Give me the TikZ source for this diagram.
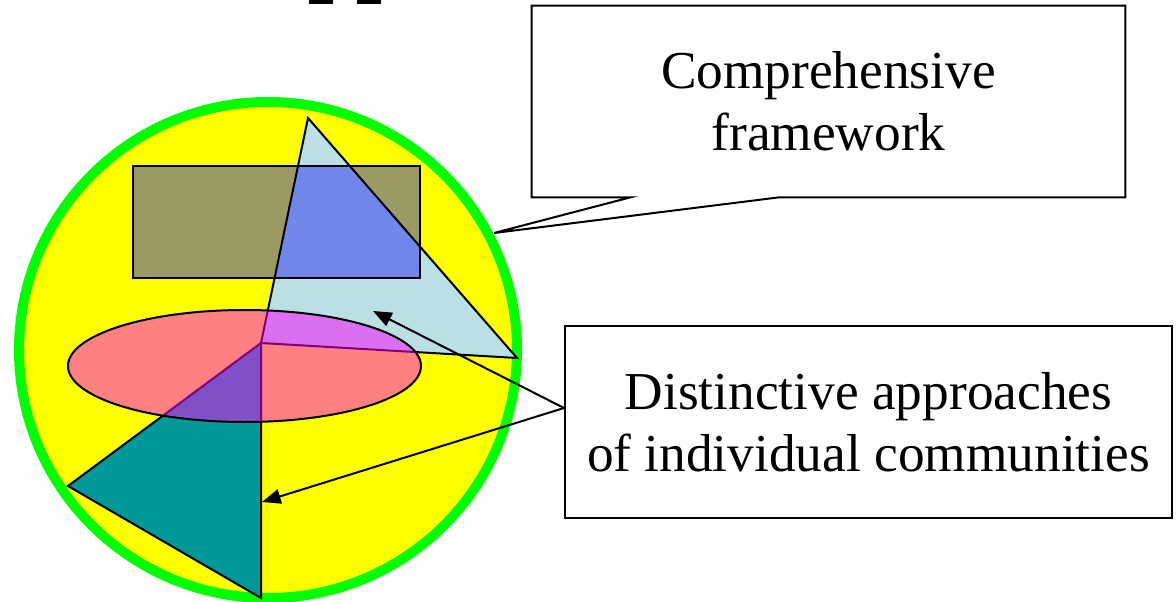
\documentclass[tikz,border=0pt]{standalone}
\usepackage{fontspec}
\setmainfont{Liberation Serif}
\usepackage{xcolor}
\usetikzlibrary{positioning,arrows.meta,calc}

\definecolor{discyellow}{RGB}{255,255,0}
\definecolor{rimgreen}{RGB}{0,255,0}
\definecolor{rectolive}{RGB}{156,154,100}
\definecolor{trilight}{RGB}{186,224,227}
\definecolor{overblue}{RGB}{111,134,234}
\definecolor{ovalpink}{RGB}{255,128,128}
\definecolor{ovalmagenta}{RGB}{218,112,240}
\definecolor{ovalpurple}{RGB}{128,80,200}
\definecolor{triteal}{RGB}{0,153,153}
\definecolor{edgepurple}{RGB}{128,0,128}

\begin{document}
\begin{tikzpicture}[
  x=0.75pt, y=-0.75pt,
  font=\fontsize{40}{46.5}\selectfont,
  every node/.style={align=center},
  callbox/.style={inner sep=0pt, minimum width=444.75pt, minimum height=143.25pt},
  notebox/.style={draw, line width=1.5pt, inner sep=0pt, minimum width=455.25pt, minimum height=144pt},
  callline/.style={line width=1.5pt, line join=miter},
  outline/.style={draw=black, line width=1.5pt},
  inline/.style={draw=edgepurple, line width=1.5pt},
  arrow/.style={-{Triangle[length=14pt, width=11pt]}, line width=1.5pt},
]
\useasboundingbox (0,0) rectangle (1176,602);

% ===== title remnants =====
\fill (309,0) rectangle (333,4);
\fill (357,0) rectangle (381,4);

% ===== disc =====
\draw[rimgreen, line width=7.5pt, fill=discyellow] (268,350) ellipse [x radius=249, y radius=248];

\coordinate (ta) at (308,118);
\coordinate (tb) at (517,358);
\coordinate (tc) at (261,343);
\coordinate (tl) at (68,486);
\coordinate (tbot) at (261,598);

% rectangle under the light triangle
\fill[rectolive] (133,166) rectangle (420,278);
\fill[trilight] (ta) -- (tb) -- (tc) -- cycle;
\begin{scope}
  \clip (ta) -- (tb) -- (tc) -- cycle;
  \fill[overblue] (133,166) rectangle (420,278);
\end{scope}
\draw[outline] (133,166) rectangle (420,278);
\draw[outline] (ta) -- (tb) -- (tc) -- cycle;

% teal triangle
\draw[outline, fill=triteal] (tc) -- (tl) -- (tbot) -- cycle;

% oval
\fill[ovalpink] (244.5,366) ellipse [x radius=176.5, y radius=56];
\begin{scope}
  \clip (244.5,366) ellipse [x radius=176.5, y radius=56];
  \fill[ovalmagenta] (ta) -- (tb) -- (tc) -- cycle;
  \fill[ovalpurple] (tc) -- (tl) -- (tbot) -- cycle;
  \draw[inline] (ta) -- (tc) -- (tb);
  \draw[inline] (tl) -- (tc) -- (tbot);
\end{scope}
\draw[outline] (244.5,366) ellipse [x radius=176.5, y radius=56];

% ===== callouts =====
\node[callbox] (frame) at (828.5,101.5) {Comprehensive\\framework};
\coordinate (rimpt) at (494,233);
\draw[callline] (frame.south west) |- (frame.north east)
  |- ($(frame.south west)+(248,0)$) -- (rimpt)
  -- ($(frame.south west)+(99,0)$) -- cycle;

\node[notebox] (approach) at (868.5,422) {Distinctive approaches\\of individual communities};
\coordinate (upper) at (373,311);
\coordinate (lower) at (262,502);
\draw[arrow] ($(approach.west)+(0,-14)$) -- (upper);
\draw[arrow] ($(approach.west)+(0,-14)$) -- (lower);
\end{tikzpicture}
\end{document}
